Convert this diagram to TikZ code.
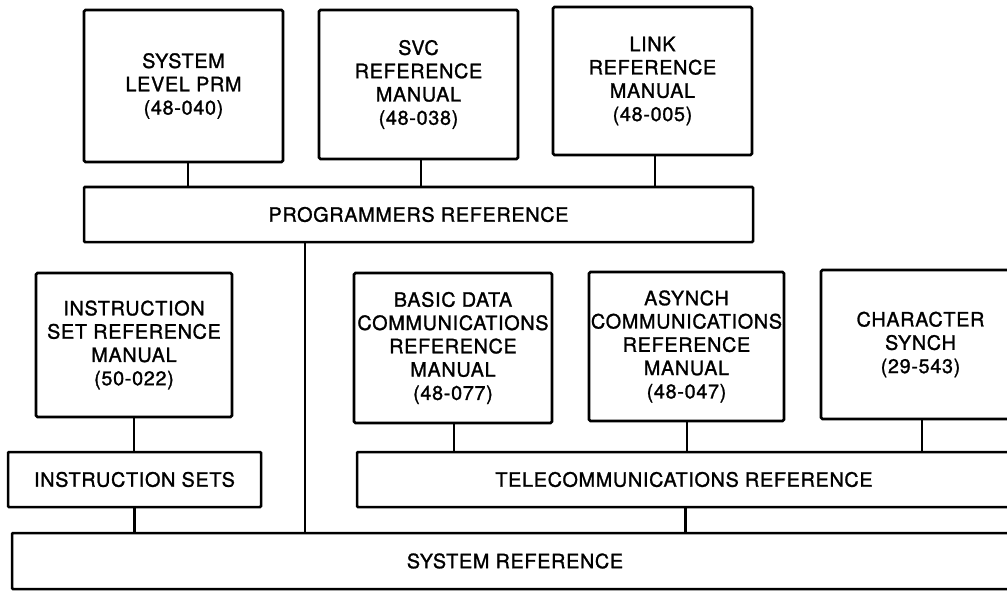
\documentclass[tikz,border=0pt]{standalone}
\usepackage{fontspec}
\setmainfont[LetterSpace=3.5, FakeBold=1.3]{TeX Gyre Heros}
\tikzset{
  manual/.style={draw, line width=2.8pt, rounded corners=1.5pt, inner sep=0pt,
    align=center, font=\fontsize{19.8}{23.3}\selectfont},
  bar/.style={draw, line width=2.5pt, rounded corners=1pt, inner sep=0pt,
    align=center, font=\fontsize{19.8}{23.3}\selectfont},
  link/.style={line width=2pt},
  heavylink/.style={line width=3pt}
}
\begin{document}
\begin{tikzpicture}[x=1pt, y=-1pt]
\useasboundingbox (0,0) rectangle (1007,591);
\begin{scope}
\clip (0,0) rectangle (1007,591);
% top row of manuals
\node[manual, minimum width=199pt, minimum height=152pt] (prm) at (183.5,86) {SYSTEM\\LEVEL PRM\\(48-040)};
\node[manual, minimum width=199pt, minimum height=149pt] (svc) at (418.5,84.5) {SVC\\REFERENCE\\MANUAL\\(48-038)};
\node[manual, minimum width=199pt, minimum height=148pt] (lnk) at (652.5,81) {LINK\\REFERENCE\\MANUAL\\(48-005)};
\node[bar, minimum width=669pt, minimum height=55pt] (prog) at (418.5,214.5) {PROGRAMMERS REFERENCE};
% second row of manuals
\node[manual, minimum width=196pt, minimum height=144pt] (isr) at (134,345) {INSTRUCTION\\SET REFERENCE\\MANUAL\\(50-022)};
\node[bar, minimum width=253pt, minimum height=55pt] (iset) at (134.5,479.5) {INSTRUCTION SETS};
\node[manual, minimum width=198pt, minimum height=150pt] (bdc) at (453,348) {BASIC DATA\\COMMUNICATIONS\\REFERENCE\\MANUAL\\(48-077)};
\node[manual, minimum width=195pt, minimum height=149pt] (asy) at (686.5,346.5) {ASYNCH\\COMMUNICATIONS\\REFERENCE\\MANUAL\\(48-047)};
\node[manual, minimum width=199pt, minimum height=149pt] (chs) at (920.5,344.5) {CHARACTER\\SYNCH\\(29-543)};
\node[bar, minimum width=654pt, minimum height=55pt] (tel) at (684,479.5) {TELECOMMUNICATIONS REFERENCE};
% base
\node[bar, minimum width=1006pt, minimum height=56pt] (sys) at (515,561) {SYSTEM REFERENCE};
% connectors
\draw[link] ([xshift=4.5pt]prm.south) -- ([xshift=4.5pt]prm.south |- prog.north);
\draw[link] ([xshift=2.5pt]svc.south) -- ([xshift=2.5pt]svc.south |- prog.north);
\draw[link] ([xshift=2pt]lnk.south) -- ([xshift=2pt]lnk.south |- prog.north);
\draw[link] ([xshift=-113.5pt]prog.south) -- ([xshift=-113.5pt]prog.south |- sys.north);
\draw[link] (isr.south) -- (isr.south |- iset.north);
\draw[heavylink] ([xshift=-0.5pt]iset.south) -- ([xshift=-0.5pt]iset.south |- sys.north);
\draw[link] ([xshift=1pt]bdc.south) -- ([xshift=1pt]bdc.south |- tel.north);
\draw[link] ([xshift=0.5pt]asy.south) -- ([xshift=0.5pt]asy.south |- tel.north);
\draw[link] ([xshift=1.5pt]chs.south) -- ([xshift=1.5pt]chs.south |- tel.north);
\draw[heavylink] ([xshift=1pt]tel.south) -- ([xshift=1pt]tel.south |- sys.north);
\end{scope}
\end{tikzpicture}
\end{document}
